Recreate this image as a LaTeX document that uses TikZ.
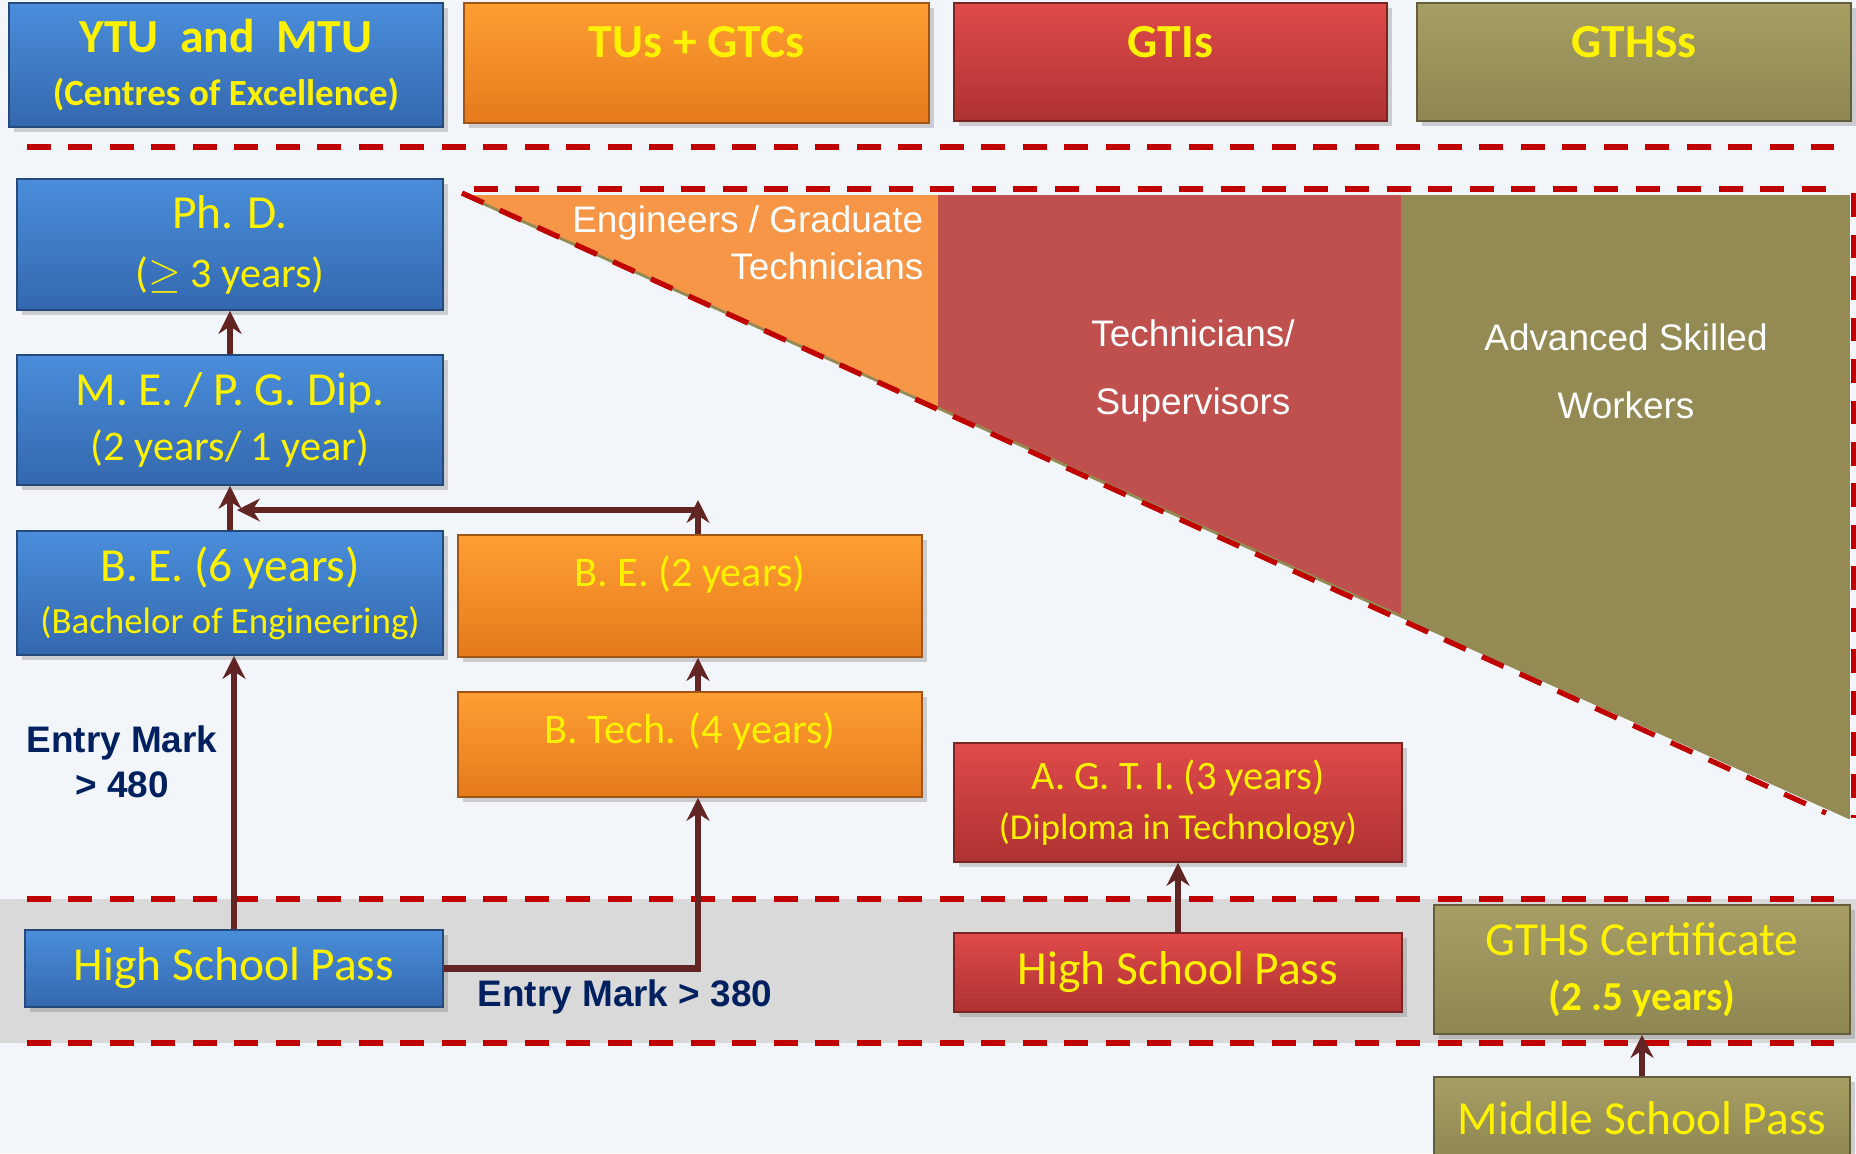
\documentclass[tikz,border=0pt]{standalone}
\usepackage{fontspec}
\setmainfont{Carlito}
\newfontfamily\arialfont{Liberation Sans}
\usetikzlibrary{arrows.meta,shadows}

\definecolor{pagebg}{HTML}{F2F5FA}
\definecolor{bandgray}{HTML}{D9D9D9}
\definecolor{dashred}{HTML}{C00000}
\definecolor{linkred}{HTML}{632523}
\definecolor{markblue}{HTML}{002060}
\definecolor{blueTop}{HTML}{4A8EDB}
\definecolor{blueBot}{HTML}{3468AE}
\definecolor{orangeTop}{HTML}{FF9E32}
\definecolor{orangeBot}{HTML}{E47A1C}
\definecolor{redTop}{HTML}{E04A4A}
\definecolor{redBot}{HTML}{AE3232}
\definecolor{oliveTop}{HTML}{A69E64}
\definecolor{oliveBot}{HTML}{8E8752}
\definecolor{engOrange}{HTML}{F79646}
\definecolor{techRed}{HTML}{C0504D}
\definecolor{workOlive}{HTML}{948A54}

\begin{document}
\begin{tikzpicture}[x=0.01cm, y=-0.01cm,
	box/.style={rectangle, inner sep=0pt, align=center, text=yellow, draw=#1Bot!70!black, line width=0.5pt, top color=#1Top, bottom color=#1Bot, drop shadow={shadow xshift=1.5pt, shadow yshift=-1.5pt, opacity=0.35}, font=\fontsize{13.5}{16}\selectfont},
	toplabel/.style={anchor=north, inner sep=0pt, yshift=#1, text=yellow, font=\bfseries\fontsize{13.5}{16}\selectfont},
	toplabel/.default=-6.8pt,
	tritext/.style={text=white, inner sep=0pt, align=center, font=\arialfont\fontsize{10.5}{19.4}\selectfont},
	marktext/.style={text=markblue, inner sep=0pt, font=\arialfont\bfseries\fontsize{10.5}{12.8}\selectfont},
	reddash/.style={draw=dashred, line width=1.5pt, dash pattern=on 6.75pt off 5.05pt},
	link/.style={draw=linkred, line width=1.8pt, -{Stealth[length=6.5pt, width=6.5pt]}}
]
	\fill [pagebg] (0,0) rectangle (1856,1153);
	\useasboundingbox (0,0) rectangle (1856,1153);
	\fill [bandgray] (0,899) rectangle (1856,1043);

	% trained workforce wedge
	\begin{scope}
		\clip (464,195) -- (1850,195) -- (1850,818) -- cycle;
		\fill [engOrange] (464,195) rectangle (938,818);
		\fill [techRed] (938,195) rectangle (1401,818);
		\fill [workOlive] (1401,195) rectangle (1850,818);
	\end{scope}
	\draw [workOlive, line width=0.8pt] (464,195) -- (1850,818);
	\draw [reddash] (474,189) -- (1842,189);
	\draw [reddash] (1854,193) -- (1854,818);
	\draw [reddash] (462,193) -- (1826,813);
	\node [tritext, align=right, anchor=east, font=\arialfont\fontsize{10.5}{13.3}\selectfont] (engtxt) at (924,243) {Engineers / Graduate\\Technicians};
	\node [tritext] (techtxt) at (1193,371) {Technicians/\\Supervisors};
	\node [tritext] (worktxt) at (1626,371) {Advanced Skilled\\Workers};

	\foreach \y in {147, 899, 1043} {%
		\draw [reddash] (27,\y) -- (1834,\y);
	}

	% institutions
	\node [box=blue, minimum width=4.34cm, minimum height=1.24cm, font=\bfseries\fontsize{13.5}{15.1}\selectfont] (ytu) at (226,65) {YTU~~and~~MTU\\\fontsize{10.5}{12}\selectfont(Centres of Excellence)};
	\node [box=orange, minimum width=4.65cm, minimum height=1.20cm, label={[toplabel]north:TUs + GTCs}] (tus) at (696.5,63) {};
	\node [box=red, minimum width=4.33cm, minimum height=1.18cm, label={[toplabel]north:GTIs}] (gtis) at (1170.5,62) {};
	\node [box=olive, minimum width=4.34cm, minimum height=1.18cm, label={[toplabel]north:GTHSs}] (gthss) at (1634,62) {};

	% programmes
	\node [box=blue, minimum width=4.26cm, minimum height=1.31cm, font=\fontsize{13.5}{16.8}\selectfont] (phd) at (230,244.5) {Ph. D.\\\fontsize{12}{14}\selectfont($\geq$ 3 years)};
	\node [box=blue, minimum width=4.26cm, minimum height=1.30cm, font=\fontsize{13.5}{15.6}\selectfont] (me) at (230,420) {M. E. / P. G. Dip.\\\fontsize{12}{14}\selectfont(2 years/ 1 year)};
	\node [box=blue, minimum width=4.26cm, minimum height=1.24cm, font=\fontsize{13.5}{14.8}\selectfont] (be6) at (230,593) {B. E. (6 years)\\\fontsize{10.5}{12}\selectfont(Bachelor of Engineering)};
	\node [box=orange, minimum width=4.64cm, minimum height=1.22cm, label={[toplabel=-5.8pt, font=\fontsize{12}{14}\selectfont]north:B. E. (2 years)}] (be2) at (690,596) {};
	\node [box=orange, minimum width=4.64cm, minimum height=1.05cm, label={[toplabel=-5.8pt, font=\fontsize{12}{14}\selectfont]north:B. Tech. (4 years)}] (btech) at (690,744.5) {};
	\node [box=red, minimum width=4.48cm, minimum height=1.19cm, font=\fontsize{11.5}{14.2}\selectfont] (agti) at (1178,802.5) {A. G. T. I. (3 years)\\\fontsize{10.4}{12}\selectfont(Diploma in Technology)};

	% entry levels
	\node [box=blue, minimum width=4.18cm, minimum height=0.77cm] (hsp) at (234,968.5) {High School Pass};
	\node [box=red, minimum width=4.48cm, minimum height=0.79cm] (hspred) at (1178,972.5) {High School Pass};
	\node [box=olive, minimum width=4.16cm, minimum height=1.29cm, font=\fontsize{13.5}{15.6}\selectfont] (gthscert) at (1642,969.5) {GTHS Certificate\\\bfseries\fontsize{11.7}{14}\selectfont(2 .5 years)};
	\node [box=olive, minimum width=4.16cm, minimum height=0.83cm] (middle) at (1642,1118.5) {Middle School Pass};

	\node [marktext, align=center] (mark480) at (122,762) {Entry Mark\\> 480};
	\node [marktext, anchor=west] (mark380) at (477,997) {Entry Mark > 380};

	% pathways
	\coordinate (colbe) at (698,0);
	\coordinate (joinup) at (698,500);
	\coordinate (joinright) at (698,510);
	\coordinate (joinleft) at (237,510);
	\draw [link] (me) -- (phd);
	\draw [link] (be6.north) -- (me.south);
	\draw [link] (be2.north -| colbe) -- (joinup);
	\draw [link] (joinright) -- (joinleft);
	\draw [link] (btech.north -| colbe) -- (be2.south -| colbe);
	\draw [link] (hsp.east) -| (btech.south -| colbe);
	\draw [link] (hsp.north) -- (hsp.north |- be6.south);
	\draw [link] (hspred) -- (agti);
	\draw [link] (middle) -- (gthscert);
\end{tikzpicture}
\end{document}
